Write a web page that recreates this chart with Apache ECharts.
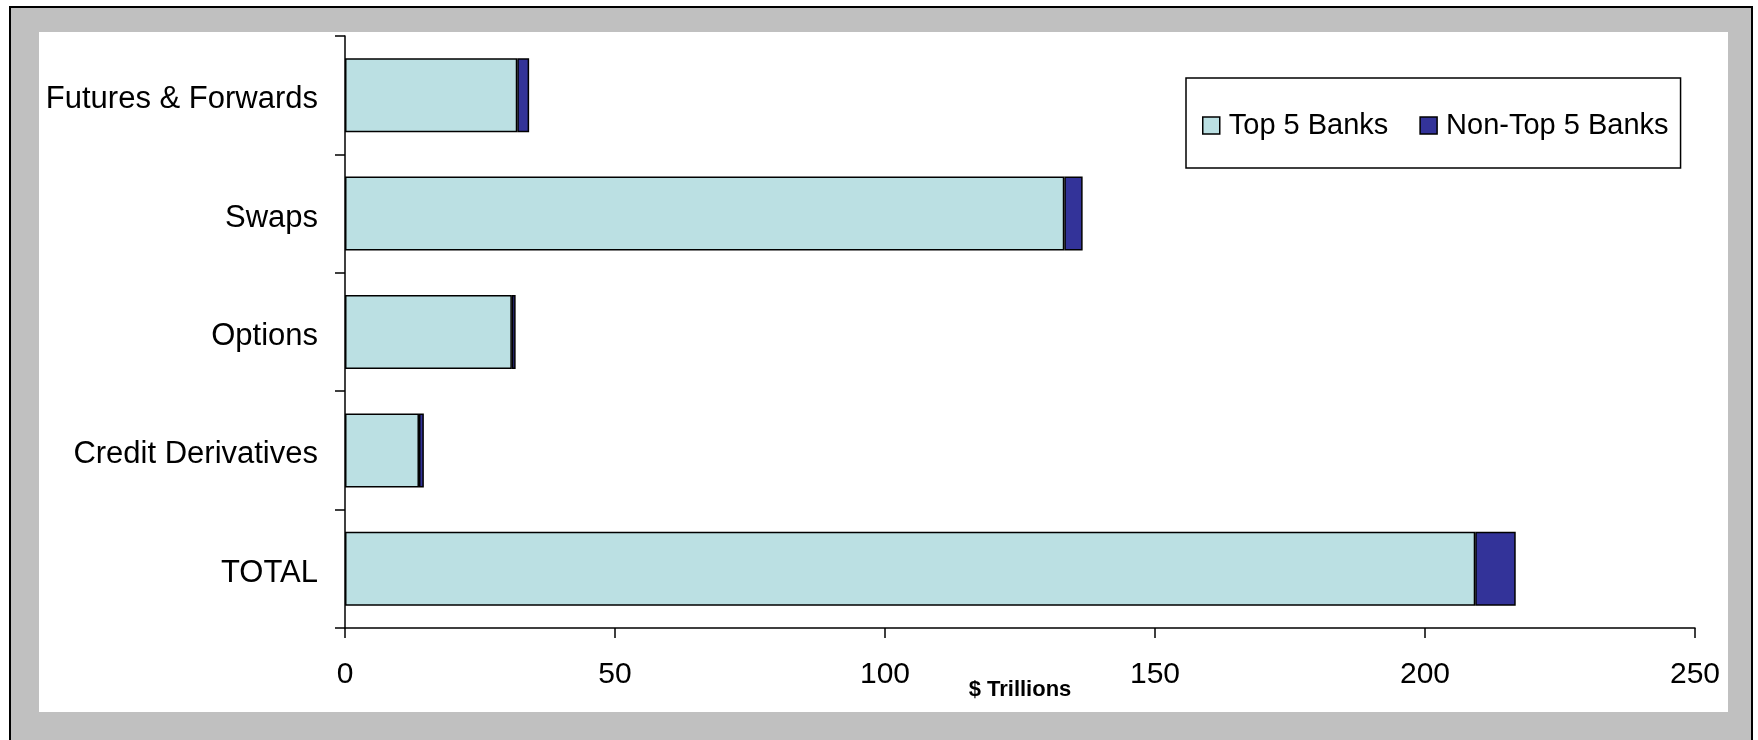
<!DOCTYPE html>
<html>
<head>
<meta charset="utf-8">
<script src="https://cdn.jsdelivr.net/npm/echarts@6/dist/echarts.min.js"></script>
<style>
html,body{margin:0;padding:0;background:#fff;}
#chart{width:1758px;height:740px;}
</style>
</head>
<body>
<div id="chart"></div>
<script>
const categories = ['Futures & Forwards', 'Swaps', 'Options', 'Credit Derivatives', 'TOTAL'];
const top5Banks = [31.9, 133.2, 30.9, 13.7, 209.3];
const nonTop5Banks = [2.2, 3.4, 0.7, 0.9, 7.5];
const seriesNames = ['Top 5 Banks', 'Non-Top 5 Banks'];
const xAxisName = '$ Trillions';

const FONT = '"Liberation Sans", Arial, sans-serif';
const chart = echarts.init(document.getElementById('chart'), null, {renderer: 'canvas'});
chart.setOption({
  animation: false,
  backgroundColor: '#ffffff',
  textStyle: {fontFamily: FONT, color: '#000'},
  graphic: [
    {type: 'rect', z: -10, silent: true, shape: {x: 10, y: 7, width: 1742, height: 740},
     style: {fill: '#C0C0C0', stroke: '#000', lineWidth: 2}},
    {type: 'rect', z: -9, silent: true, shape: {x: 39, y: 32, width: 1689, height: 680},
     style: {fill: '#ffffff'}}
  ],
  legend: {
    left: 1186, top: 78,
    orient: 'horizontal',
    padding: [33, 12, 28, 16],
    itemWidth: 17, itemHeight: 17, itemGap: 31,
    borderColor: '#000', borderWidth: 1.5,
    backgroundColor: '#fff',
    textStyle: {fontSize: 29, fontFamily: FONT, color: '#000', padding: [0, 0, 0, 4]},
    icon: 'rect',
    itemStyle: {borderColor: '#000', borderWidth: 1.5},
    data: seriesNames
  },
  grid: {left: 345, top: 36, right: 63, bottom: 112, containLabel: false},
  xAxis: {
    type: 'value', min: 0, max: 250, interval: 50,
    name: xAxisName, nameLocation: 'middle', nameGap: 51, nameMoveOverlap: false,
    nameTextStyle: {fontSize: 22, fontWeight: 'bold', fontFamily: FONT, color: '#000'},
    axisLine: {show: true, lineStyle: {color: '#000', width: 1.5}},
    axisTick: {show: true, inside: false, length: 10, lineStyle: {color: '#000', width: 1.5}},
    axisLabel: {fontSize: 30, color: '#000', margin: 32, fontFamily: FONT},
    splitLine: {show: false}
  },
  yAxis: {
    type: 'category', data: categories, inverse: true,
    axisLine: {show: true, lineStyle: {color: '#000', width: 1.5}},
    axisTick: {show: true, length: 10, lineStyle: {color: '#000', width: 1.5}},
    axisLabel: {fontSize: 31, color: '#000', margin: 27, fontFamily: FONT, verticalAlign: 'top', padding: [-11, 0, 0, 0]},
    splitLine: {show: false}
  },
  series: [
    {name: seriesNames[0], type: 'bar', stack: 'a', data: top5Banks, barCategoryGap: '37.5%',
     itemStyle: {color: '#BBE0E3', borderColor: '#000', borderWidth: 1.5}},
    {name: seriesNames[1], type: 'bar', stack: 'a', data: nonTop5Banks, barCategoryGap: '37.5%',
     itemStyle: {color: '#333399', borderColor: '#000', borderWidth: 1.5}}
  ]
});
</script>
</body>
</html>
